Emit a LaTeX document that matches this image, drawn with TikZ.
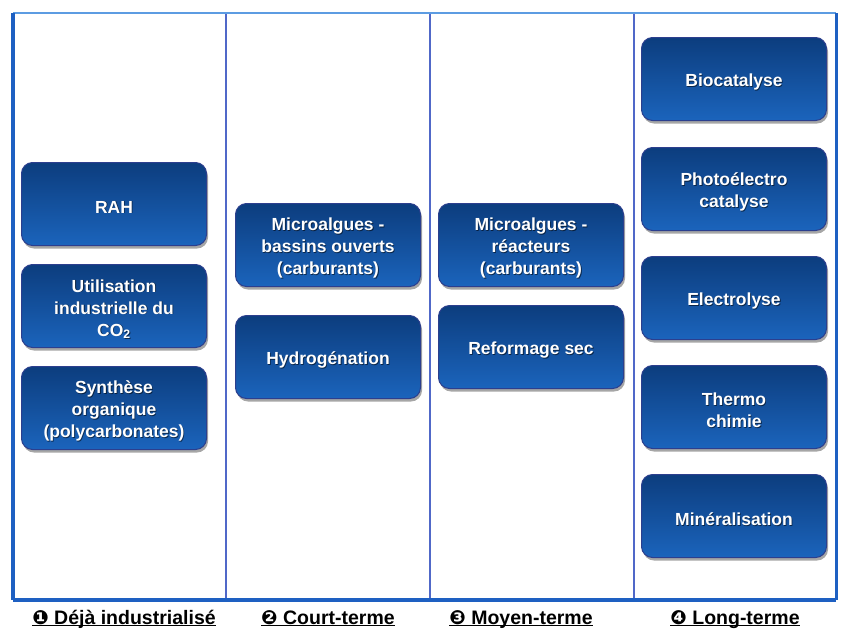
\documentclass[tikz,border=0pt]{standalone}
\usepackage{fontspec}
\setmainfont{Liberation Sans}
\newfontfamily\dingfont{DejaVu Sans}
\usetikzlibrary{shadows}

\definecolor{boxtop}{HTML}{0C3D7E}
\definecolor{boxbot}{HTML}{1B64BC}
\definecolor{boxrim}{HTML}{2C3F8E}
\definecolor{frameblue}{HTML}{1E60C2}
\definecolor{toplight}{HTML}{5C9CE2}
\definecolor{divblue}{HTML}{5068C8}

% one rounded technology box with a soft text shadow
\newcommand\techbox[4]{%
  \node[techbox] (#1) at (#2,#3) {};
  \node[techtxt, text=black, opacity=0.55] at ([xshift=0.8pt,yshift=-3.9pt]#1.center) {#4};
  \node[techtxt] (#1-t) at ([yshift=-3pt]#1.center) {#4};
}

\begin{document}
\begin{tikzpicture}[x=1pt,y=-1pt,
  techbox/.style={rounded corners=11pt, minimum width=185pt, minimum height=83pt,
    inner sep=0pt, top color=boxtop, bottom color=boxbot, draw=boxrim, line width=1pt,
    drop shadow={shadow xshift=1.5pt, shadow yshift=-3pt, opacity=0.35, fill=black}},
  techtxt/.style={text=white, font=\bfseries\fontsize{17.5}{22}\selectfont,
    align=center, inner sep=0pt},
  phase/.style={font=\bfseries\fontsize{19.5}{24}\selectfont, inner sep=0pt, anchor=base},
  uline/.style={line width=1.3pt, black}]

\useasboundingbox (0,0) rectangle (846,630);
\fill[white] (0,0) rectangle (846,630);

% frame corners and column dividers
\coordinate (tl) at (13,13);
\coordinate (tr) at (836,13);
\coordinate (bl) at (13,600);
\coordinate (br) at (836,600);
\foreach \x/\n in {226/a,430/b,634/c} {
  \coordinate (\n-top) at (\x,13);
  \coordinate (\n-bot) at (\x,600);
  \draw[divblue, line width=1.3pt] (\n-top) -- (\n-bot);
}

% frame
\draw[toplight, line width=2.5pt] (tl) -- (tr);
\draw[frameblue, line width=4pt] (tl) -- (bl);
\draw[frameblue, line width=3pt] (tr) -- (br);
\draw[frameblue, line width=4pt] (bl) -- (br);

% column 1
\techbox{rah}{114}{204}{RAH}
\techbox{util}{114}{306}{Utilisation\\industrielle du\\CO\textsubscript{2}}
\techbox{synth}{114}{408}{Synthèse\\organique\\(polycarbonates)}

% column 2
\techbox{bassins}{328}{245}{Microalgues -\\bassins ouverts\\(carburants)}
\techbox{hydro}{328}{357}{Hydrogénation}

% column 3
\techbox{reacteurs}{531}{245}{Microalgues -\\réacteurs\\(carburants)}
\techbox{reform}{531}{347}{Reformage sec}

% column 4
\techbox{bio}{734}{79}{Biocatalyse}
\techbox{photo}{734}{189}{Photoélectro\\catalyse}
\techbox{electro}{734}{298}{Electrolyse}
\techbox{thermo}{734}{407}{Thermo\\chimie}
\techbox{miner}{734}{516}{Minéralisation}

% phase labels under the columns
\node[phase] (p1) at (124,624) {{\dingfont ❶} Déjà industrialisé};
\node[phase] (p2) at (328,624) {{\dingfont ❷} Court-terme};
\node[phase] (p3) at (521,624) {{\dingfont ❸} Moyen-terme};
\node[phase] (p4) at (735,624) {{\dingfont ❹} Long-terme};
\foreach \p in {p1,p2,p3,p4}
  \draw[uline] ([yshift=-1.5pt]\p.base west) -- ([yshift=-1.5pt]\p.base east);

\end{tikzpicture}
\end{document}
